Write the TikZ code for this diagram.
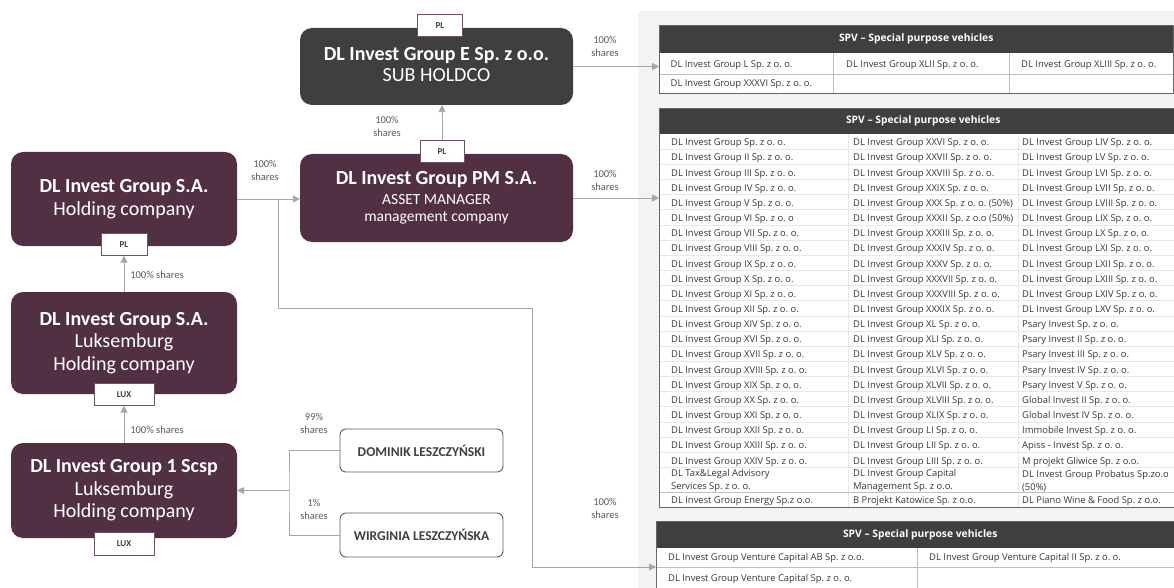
\documentclass[tikz,border=0pt]{standalone}
\usepackage{fontspec}
\setmainfont{Carlito}
\newfontfamily\cellfont{Open Sans}
\usetikzlibrary{positioning, arrows.meta, calc}
\frenchspacing

\definecolor{plum}{RGB}{82,48,68}
\definecolor{charcoal}{RGB}{63,63,63}
\definecolor{wire}{RGB}{166,166,166}
\definecolor{panel}{RGB}{244,243,243}
\definecolor{labelgray}{RGB}{89,89,89}
\definecolor{tagedge}{RGB}{112,82,100}
\definecolor{gridgray}{RGB}{191,191,191}
\definecolor{faintgray}{RGB}{232,232,232}
\definecolor{celltext}{RGB}{55,55,60}

\begin{document}
\begin{tikzpicture}[x=1pt, y=-1pt,
    entity/.style={rectangle, rounded corners=12pt, fill=plum, text=white, inner sep=0pt, font=\fontsize{20}{23}\selectfont},
    tag/.style={draw=tagedge, line width=0.9pt, fill=white, rectangle, inner sep=0pt, minimum height=22pt, text=charcoal, font=\fontsize{9}{9}\selectfont\bfseries},
    owner/.style={draw=tagedge, line width=0.9pt, fill=white, rounded corners=6pt, inner sep=0pt, minimum width=163pt, minimum height=43pt, text=charcoal, font=\fontsize{13.5}{14}\selectfont\bfseries},
    pct/.style={inner sep=0pt, align=center, text=labelgray, font=\fontsize{10.5}{13}\selectfont},
    link/.style={draw=wire, line width=0.9pt},
    arr/.style={link, -{Triangle[length=7pt, width=7pt]}},
    spvhead/.style={fill=charcoal, text=white, inner sep=0pt, anchor=north west, font=\cellfont\fontsize{10.3}{12}\selectfont\bfseries},
    cell/.style={anchor=west, inner sep=0pt, text=celltext, font=\cellfont\fontsize{9.4}{11}\selectfont},
    tableedge/.style={draw=gray!80!black, line width=0.8pt},
    gridline/.style={draw=gridgray, line width=0.6pt},
    faintline/.style={draw=faintgray, line width=0.6pt}
]
    \useasboundingbox (0,0) rectangle (1174,588);
    \clip (0,0) rectangle (1174,588);

    % Grey panel behind the SPV tables
    \fill[panel] (638,11) rectangle (1174,588);

    % Group companies
    \node[entity, fill=charcoal, minimum width=273pt, minimum height=77pt] (subhold) at (436.5,66.5) {
        \begin{tabular}{c} \textbf{DL Invest Group E Sp. z o.o.} \\[-2pt] SUB HOLDCO \end{tabular}
    };
    \node[entity, minimum width=273pt, minimum height=88pt] (manager) at (436.5,198) {
        \begin{tabular}{c} \textbf{DL Invest Group PM S.A.} \\[-3pt] \fontsize{15.5}{17}\selectfont ASSET MANAGER \\[-6pt] \fontsize{15.5}{17}\selectfont management company \end{tabular}
    };
    \node[entity, minimum width=226pt, minimum height=94pt] (holding) at (124,199) {
        \begin{tabular}{c} \textbf{DL Invest Group S.A.} \\ Holding company \end{tabular}
    };
    \node[entity, minimum width=226pt, minimum height=102pt] (luxhold) at (124,343) {
        \begin{tabular}{c} \textbf{DL Invest Group S.A.} \\[-0.5pt] Luksemburg \\[-0.5pt] Holding company \end{tabular}
    };
    \node[entity, minimum width=226pt, minimum height=95pt] (scsp) at (124,490.5) {
        \begin{tabular}{c} \textbf{DL Invest Group 1 Scsp} \\[-0.5pt] Luksemburg \\[-0.5pt] Holding company \end{tabular}
    };

    % Country tags
    \node[tag, minimum width=45pt] (plE) at ([xshift=3.5pt, yshift=2.5pt]subhold.north) {PL};
    \node[tag, minimum width=44pt] (plPM) at ([xshift=5.5pt, yshift=2pt]manager.north) {PL};
    \node[tag, minimum width=46pt] (plHold) at ([yshift=2pt]holding.south) {PL};
    \node[tag, minimum width=60pt] (luxA) at (luxhold.south) {LUX};
    \node[tag, minimum width=60pt, minimum height=23pt] (luxB) at ([yshift=-5.5pt]scsp.south) {LUX};

    % Shareholders
    \node[owner] (dominik) at (421.5,450.5) {DOMINIK LESZCZYŃSKI};
    \node[owner, minimum height=44pt] (wirginia) at (421.5,535) {WIRGINIA LESZCZYŃSKA};

    % Share labels
    \node[pct] (shE) at (605,46.5) {100\%\\shares};
    \node[pct] (shPM) at (605,180.5) {100\%\\shares};
    \node[pct] (shVC) at (605,508.5) {100\%\\shares};
    \node[pct] (shHold) at (265,170.5) {100\%\\shares};
    \node[pct] (shSub) at (387,126.5) {100\%\\shares};
    \node[pct] (shLux) at (157,275) {100\% shares};
    \node[pct] (shScsp) at (157,430) {100\% shares};
    \node[pct] (shDom) at (314,423.5) {99\%\\shares};
    \node[pct] (shWir) at (314,509.5) {1\%\\shares};

    % SPV table of the sub holdco
    \node[spvhead, minimum width=514pt, minimum height=28pt] (spvA) at (659,25) {SPV – Special purpose vehicles};
    \fill[white] (659,53) rectangle (1173,93);
    \draw[gridline] (659,74) -- (1173,74) (833.5,53) -- (833.5,93) (1009,53) -- (1009,93);
    \draw[tableedge] (spvA.north west) rectangle (1173,93);
    \node[cell] (a1-1) at (670.5,65) {DL Invest Group L Sp. z o. o.};
    \node[cell] (a1-2) at (846,65) {DL Invest Group XLII Sp. z o. o.};
    \node[cell] (a1-3) at (1021,65) {DL Invest Group XLIII Sp. z o. o.};
    \node[cell] (a2-1) at (670.5,84.5) {DL Invest Group XXXVI Sp. z o. o.};

    % SPV table of the asset manager
    \node[spvhead, minimum width=528pt, minimum height=26pt] (spvB) at (659,108) {SPV – Special purpose vehicles};
    \fill[white] (659,134) rectangle (1187,507);
    \foreach \r in {1,...,22}
        \draw[faintline] (659,{134+\r*15.15}) -- (1187,{134+\r*15.15});
    \draw[faintline] (848,134) -- (848,507) (1018,134) -- (1018,507);
    \draw[gridline] (659,492) -- (1187,492);
    \draw[tableedge] (spvB.north west) rectangle (1187,507);
    \foreach \ca/\cb/\cc [count=\r] in {
        {DL Invest Group Sp. z o. o.}/{DL Invest Group XXVI Sp. z o. o.}/{DL Invest Group LIV Sp. z o. o.},
        {DL Invest Group II Sp. z o. o.}/{DL Invest Group XXVII Sp. z o. o.}/{DL Invest Group LV Sp. z o. o.},
        {DL Invest Group III Sp. z o. o.}/{DL Invest Group XXVIII Sp. z o. o.}/{DL Invest Group LVI Sp. z o. o.},
        {DL Invest Group IV Sp. z o. o.}/{DL Invest Group XXIX Sp. z o. o.}/{DL Invest Group LVII Sp. z o. o.},
        {DL Invest Group V Sp. z o. o.}/{DL Invest Group XXX Sp. z o. o. (50\%)}/{DL Invest Group LVIII Sp. z o. o.},
        {DL Invest Group VI Sp. z o. o}/{DL Invest Group XXXII Sp. z o.o (50\%)}/{DL Invest Group LIX Sp. z o. o.},
        {DL Invest Group VII Sp. z o. o.}/{DL Invest Group XXXIII Sp. z o. o.}/{DL Invest Group LX Sp. z o. o.},
        {DL Invest Group VIII Sp. z o. o.}/{DL Invest Group XXXIV Sp. z o. o.}/{DL Invest Group LXI Sp. z o. o.},
        {DL Invest Group IX Sp. z o. o.}/{DL Invest Group XXXV Sp. z o. o.}/{DL Invest Group LXII Sp. z o. o.},
        {DL Invest Group X Sp. z o. o.}/{DL Invest Group XXXVII Sp. z o. o.}/{DL Invest Group LXIII Sp. z o. o.},
        {DL Invest Group XI Sp. z o. o.}/{DL Invest Group XXXVIII Sp. z o. o.}/{DL Invest Group LXIV Sp. z o. o.},
        {DL Invest Group XII Sp. z o. o.}/{DL Invest Group XXXIX Sp. z o. o.}/{DL Invest Group LXV Sp. z o. o.},
        {DL Invest Group XIV Sp. z o. o.}/{DL Invest Group XL Sp. z o. o.}/{Psary Invest Sp. z o. o.},
        {DL Invest Group XVI Sp. z o. o.}/{DL Invest Group XLI Sp. z o. o.}/{Psary Invest II Sp. z o. o.},
        {DL Invest Group XVII Sp. z o. o.}/{DL Invest Group XLV Sp. z o. o.}/{Psary Invest III Sp. z o. o.},
        {DL Invest Group XVIII Sp. z o. o.}/{DL Invest Group XLVI Sp. z o. o.}/{Psary Invest IV Sp. z o. o.},
        {DL Invest Group XIX Sp. z o. o.}/{DL Invest Group XLVII Sp. z o. o.}/{Psary Invest V Sp. z o. o.},
        {DL Invest Group XX Sp. z o. o.}/{DL Invest Group XLVIII Sp. z o. o.}/{Global Invest II Sp. z o. o.},
        {DL Invest Group XXI Sp. z o. o.}/{DL Invest Group XLIX Sp. z o. o.}/{Global Invest IV Sp. z o. o.},
        {DL Invest Group XXII Sp. z o. o.}/{DL Invest Group LI Sp. z o. o.}/{Immobile Invest Sp. z o. o.},
        {DL Invest Group XXIII Sp. z o. o.}/{DL Invest Group LII Sp. z o. o.}/{Apiss - Invest Sp. z o. o.},
        {DL Invest Group XXIV Sp. z o. o.}/{DL Invest Group LIII Sp. z o. o.}/{M projekt Gliwice Sp. z o.o.}}
    {
        \node[cell] (b\r-1) at (671,{136+(\r-0.5)*15.15}) {\ca};
        \node[cell] (b\r-2) at (853,{136+(\r-0.5)*15.15}) {\cb};
        \node[cell] (b\r-3) at (1022,{136+(\r-0.5)*15.15}) {\cc};
    }
    \node[cell, align=left, font=\cellfont\fontsize{9.4}{13}\selectfont] (b23-1) at (671,481) {DL Tax\&Legal Advisory\\Services Sp. z o. o.};
    \node[cell, align=left, font=\cellfont\fontsize{9.4}{13}\selectfont] (b23-2) at (853,481) {DL Invest Group Capital\\Management Sp. z o.o.};
    \node[cell, align=left, font=\cellfont\fontsize{9.4}{13}\selectfont] (b23-3) at (1022,481) {DL Invest Group Probatus Sp.zo.o\\(50\%)};
    \node[cell] (b24-1) at (671,501) {DL Invest Group Energy Sp.z o.o.};
    \node[cell] (b24-2) at (853,501) {B Projekt Katowice Sp. z o.o.};
    \node[cell] (b24-3) at (1022,501) {DL Piano Wine \& Food Sp. z o.o.};

    % SPV table of the venture capital arm
    \node[spvhead, minimum width=528pt, minimum height=27pt] (spvC) at (656,521) {SPV – Special purpose vehicles};
    \fill[white] (656,548) rectangle (1184,590);
    \draw[gridline] (656,567) -- (1184,567) (917.5,548) -- (917.5,590);
    \draw[tableedge] (spvC.north west) rectangle (1184,590);
    \node[cell] (c1-1) at (668,558.5) {DL Invest Group Venture Capital AB Sp. z o.o.};
    \node[cell] (c1-2) at (929,558.5) {DL Invest Group Venture Capital II Sp. z o. o.};
    \node[cell] (c2-1) at (668,579) {DL Invest Group Venture Capital Sp. z o. o.};

    % Ownership links
    \coordinate (split) at (278,199);
    \coordinate (bend) at (532,308);
    \coordinate (spvCin) at (656,567);
    \coordinate (join) at (289,490.5);
    \draw[arr] (plPM.north) -- (plPM.north |- subhold.south);
    \draw[arr] (holding.east) -- (holding.east -| manager.west);
    \draw[arr] (luxhold.north) -- (plHold.south);
    \draw[arr] (scsp.north) -- (luxA.south);
    \draw[arr] (subhold.east) -- (subhold.east -| spvA.west);
    \draw[arr] (manager.east) -- (manager.east -| spvB.west);
    \draw[arr] (split) |- (bend) |- (spvCin);
    \draw[link] (dominik.west) -| (join) |- (wirginia.west);
    \draw[arr] (join) -- (join -| scsp.east);
\end{tikzpicture}
\end{document}
